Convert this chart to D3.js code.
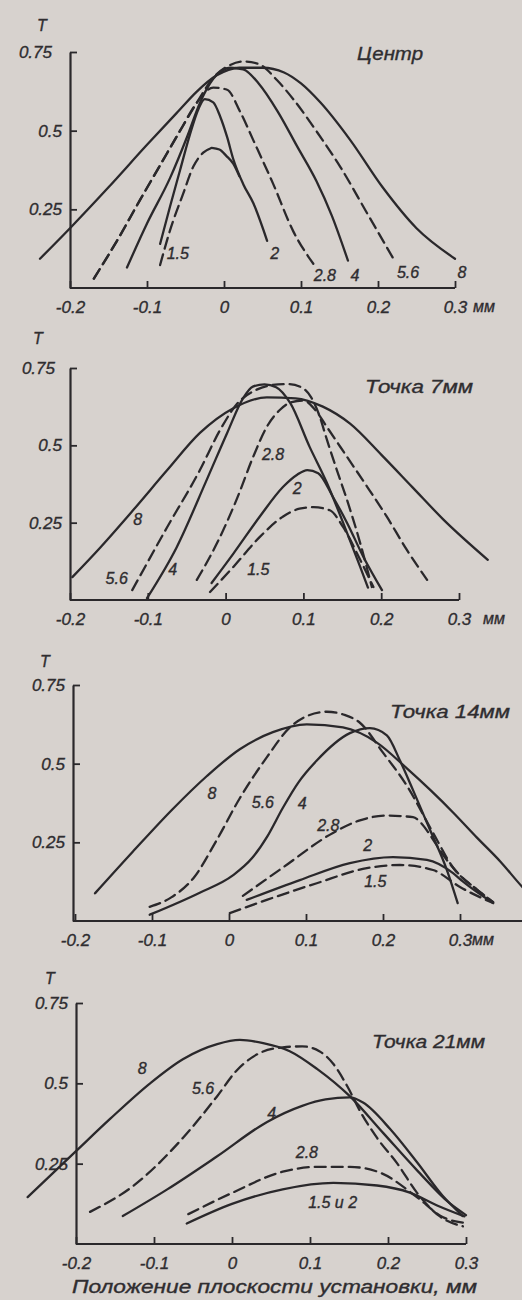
<!DOCTYPE html>
<html>
<head>
<meta charset="utf-8">
<script src="https://cdn.jsdelivr.net/npm/d3@7"></script>
<style>
  html, body { margin: 0; padding: 0; background: #d7d2ce; }
  svg { display: block; }
  text { font-family: "Liberation Sans", Arial, sans-serif; font-style: italic; fill: #2f2d30;
         stroke: #2f2d30; stroke-width: 0.35px; }
</style>
</head>
<body>
<svg id="chart" width="522" height="1300"></svg>
<script>
// Transmission T versus plane position (mm) for several apertures,
// at the field centre and at 7, 14 and 21 mm off axis.

const xTicks = [-0.2, -0.1, 0, 0.1, 0.2, 0.3];
const yTicks = [0.25, 0.5, 0.75];
const titles = ["Центр", "Точка 7мм", "Точка 14мм", "Точка 21мм"];
const axisTitle = "Положение плоскости установки, мм";

// --- Центр ---
const center_8 = [[-0.239,0.093],[-0.2,0.19],[-0.15,0.32],[-0.1,0.455],[-0.06,0.56],[-0.035,0.625],[-0.01,0.675],[0.02,0.70],[0.05,0.70],[0.078,0.685],[0.1,0.65],[0.125,0.59],[0.164,0.47],[0.206,0.32],[0.25,0.19],[0.3,0.093]];
const center_5_6 = [[-0.169,0.03],[-0.139,0.15],[-0.109,0.28],[-0.083,0.39],[-0.057,0.5],[-0.035,0.59],[-0.015,0.665],[0.005,0.705],[0.025,0.72],[0.045,0.712],[0.069,0.66],[0.09,0.6],[0.121,0.495],[0.151,0.385],[0.186,0.237],[0.22,0.093]];
const center_4 = [[-0.126,0.065],[-0.1,0.205],[-0.07,0.35],[-0.048,0.48],[-0.031,0.59],[-0.014,0.665],[0.008,0.70],[0.025,0.695],[0.045,0.65],[0.07,0.56],[0.095,0.45],[0.12,0.34],[0.14,0.23],[0.161,0.087]];
const center_2_8 = [[-0.169,0.03],[-0.139,0.15],[-0.109,0.28],[-0.083,0.39],[-0.057,0.5],[-0.035,0.59],[-0.014,0.637],[0.004,0.63],[0.021,0.56],[0.038,0.47],[0.064,0.33],[0.09,0.18],[0.116,0.077]];
const center_2 = [[-0.083,0.14],[-0.07,0.26],[-0.057,0.375],[-0.044,0.49],[-0.033,0.57],[-0.025,0.60],[-0.014,0.59],[-0.005,0.545],[0.004,0.48],[0.012,0.41],[0.025,0.33],[0.038,0.27],[0.056,0.15]];
const center_1_5 = [[-0.083,0.073],[-0.07,0.184],[-0.053,0.3],[-0.04,0.385],[-0.027,0.43],[-0.016,0.445]];
const center_1_5_fall = [[-0.016,0.445],[-0.006,0.44],[0.003,0.42],[0.012,0.395],[0.02,0.355]];

// --- Точка 7мм ---
const pt7_8 = [[-0.197,0.074],[-0.161,0.17],[-0.119,0.29],[-0.075,0.42],[-0.033,0.54],[0.01,0.62],[0.053,0.655],[0.09,0.652],[0.125,0.625],[0.16,0.57],[0.2,0.47],[0.24,0.365],[0.28,0.26],[0.337,0.13]];
const pt7_5_6 = [[-0.12,0.032],[-0.075,0.236],[-0.033,0.42],[-0.007,0.55],[0.015,0.635],[0.04,0.68],[0.06,0.695],[0.08,0.698],[0.097,0.688],[0.11,0.655],[0.12,0.6],[0.13,0.52],[0.143,0.42],[0.156,0.324],[0.173,0.184],[0.188,0.042]];
const pt7_4 = [[-0.101,0.006],[-0.063,0.17],[-0.024,0.39],[0.002,0.54],[0.022,0.65],[0.035,0.69],[0.05,0.697],[0.065,0.688],[0.083,0.637],[0.108,0.495],[0.13,0.38],[0.151,0.25],[0.173,0.107],[0.183,0.04]];
const pt7_2_8 = [[-0.037,0.065],[-0.011,0.184],[0.015,0.33],[0.035,0.46],[0.053,0.56],[0.07,0.615],[0.085,0.64],[0.1,0.645],[0.115,0.615],[0.13,0.56],[0.156,0.463],[0.182,0.366],[0.207,0.27],[0.233,0.162],[0.259,0.065]];
const pt7_2 = [[-0.018,0.055],[0.01,0.15],[0.044,0.27],[0.074,0.366],[0.092,0.405],[0.105,0.42],[0.119,0.41],[0.138,0.333],[0.156,0.25],[0.177,0.14],[0.201,0.032]];
const pt7_1_5 = [[-0.02,0.026],[0.01,0.107],[0.044,0.204],[0.074,0.27],[0.095,0.295],[0.113,0.30],[0.134,0.29],[0.151,0.236],[0.173,0.13],[0.19,0.042]];

// --- Точка 14мм ---
const pt14_8 = [[-0.174,0.088],[-0.125,0.22],[-0.073,0.356],[-0.029,0.46],[0.014,0.546],[0.057,0.60],[0.101,0.625],[0.148,0.615],[0.192,0.567],[0.231,0.485],[0.262,0.415],[0.291,0.345],[0.322,0.265],[0.352,0.19],[0.381,0.108],[0.4,0.06]];
const pt14_5_6 = [[-0.103,0.045],[-0.075,0.075],[-0.045,0.14],[-0.016,0.257],[0.014,0.39],[0.049,0.52],[0.079,0.615],[0.1,0.65],[0.127,0.665],[0.15,0.655],[0.17,0.63],[0.2,0.535],[0.231,0.43],[0.265,0.28],[0.291,0.17],[0.322,0.10],[0.343,0.06]];
const pt14_4 = [[-0.103,0.02],[-0.038,0.09],[0.005,0.145],[0.03,0.2],[0.05,0.27],[0.07,0.36],[0.09,0.44],[0.114,0.51],[0.157,0.597],[0.183,0.613],[0.205,0.59],[0.222,0.51],[0.239,0.416],[0.261,0.29],[0.283,0.162],[0.297,0.057]];
const pt14_2_8 = [[0.018,0.08],[0.07,0.17],[0.135,0.28],[0.17,0.32],[0.205,0.335],[0.239,0.33],[0.25,0.31],[0.262,0.27],[0.278,0.21],[0.3,0.145],[0.322,0.10],[0.343,0.06]];
const pt14_2 = [[0.023,0.067],[0.092,0.13],[0.157,0.184],[0.213,0.203],[0.257,0.194],[0.291,0.152],[0.304,0.125],[0.343,0.057]];
const pt14_1_5 = [[0.001,0.025],[0.049,0.067],[0.114,0.12],[0.179,0.168],[0.222,0.178],[0.265,0.162],[0.3,0.108],[0.343,0.057]];

// --- Точка 21мм ---
const pt21_8 = [[-0.262,0.146],[-0.2,0.289],[-0.156,0.39],[-0.105,0.50],[-0.063,0.575],[-0.019,0.622],[0.01,0.635],[0.04,0.625],[0.074,0.60],[0.109,0.545],[0.151,0.46],[0.194,0.345],[0.237,0.23],[0.279,0.127],[0.3,0.09]];
const pt21_5_6 = [[-0.182,0.10],[-0.127,0.18],[-0.063,0.33],[-0.019,0.46],[0.006,0.54],[0.036,0.595],[0.065,0.612],[0.09,0.615],[0.112,0.6],[0.13,0.56],[0.148,0.49],[0.165,0.41],[0.186,0.33],[0.212,0.25],[0.237,0.16],[0.267,0.085],[0.296,0.055]];
const pt21_4 = [[-0.14,0.087],[-0.083,0.17],[-0.019,0.273],[0.045,0.38],[0.09,0.43],[0.12,0.45],[0.151,0.456],[0.168,0.44],[0.203,0.357],[0.237,0.255],[0.27,0.15],[0.296,0.087]];
const pt21_2_8 = [[-0.056,0.093],[0.001,0.16],[0.065,0.225],[0.109,0.24],[0.151,0.24],[0.19,0.222],[0.237,0.146],[0.27,0.084],[0.3,0.065]];
const pt21_1_5_and_2 = [[-0.058,0.064],[0.0,0.125],[0.065,0.17],[0.13,0.19],[0.186,0.182],[0.228,0.16],[0.263,0.12],[0.298,0.086]];

// Panel layout and the curves drawn in each
const panels = [
  { series: [
      { d: center_8 }, { d: center_4 }, { d: center_2 }, { d: center_1_5_fall },
      { d: center_5_6, dash: true }, { d: center_2_8, dash: true }, { d: center_1_5, dash: true } ],
    labels: [["1.5",-0.06,0.111],["2",0.066,0.111],["2.8",0.131,0.041],["4",0.17,0.041],["5.6",0.239,0.048],["8",0.309,0.048]],
    xr: [70, 455], yr: [288, 52], axisX: 70, axisEnd: 455, mm: 18, topShift: 10,
    tPos: [42, 31], titlePos: [357, 60, 66] },
  { series: [
      { d: pt7_8 }, { d: pt7_4 }, { d: pt7_2 },
      { d: pt7_5_6, dash: true }, { d: pt7_2_8, dash: true }, { d: pt7_1_5, dash: true } ],
    labels: [["8",-0.113,0.26],["5.6",-0.14,0.07],["4",-0.068,0.10],["2.8",0.061,0.47],["2",0.092,0.36],["1.5",0.042,0.097]],
    xr: [70, 459], yr: [600, 368], axisX: 70, axisEnd: 459, mm: 24, topShift: 7,
    tPos: [38, 344], titlePos: [365, 393, 108] },
  { series: [
      { d: pt14_8 }, { d: pt14_4 }, { d: pt14_2 },
      { d: pt14_5_6, dash: true }, { d: pt14_2_8, dash: true }, { d: pt14_1_5, dash: true } ],
    labels: [["8",-0.022,0.406],["5.6",0.044,0.378],["4",0.095,0.375],["2.8",0.129,0.305],["2",0.18,0.24],["1.5",0.19,0.124]],
    xr: [75, 460], yr: [921, 685], axisX: 73, axisEnd: 522, mm: 12, topShift: 0,
    tPos: [45, 667], titlePos: [390, 718, 120] },
  { series: [
      { d: pt21_8 }, { d: pt21_4 }, { d: pt21_1_5_and_2 },
      { d: pt21_5_6, dash: true }, { d: pt21_2_8, dash: true } ],
    labels: [["8",-0.115,0.547],["5.6",-0.037,0.484],["4",0.051,0.407],["2.8",0.096,0.286],["1.5 и 2",0.129,0.13]],
    xr: [76, 466], yr: [1244, 1003], axisX: 76, axisEnd: 466, mm: null, topShift: 0,
    tPos: [50, 984], titlePos: [372, 1048, 113] }
];

const ink = "#2a282b";
const svg = d3.select("#chart");
const line = d3.line().curve(d3.curveMonotoneX);
const fmt = d => (d === 0 ? "0" : String(d));

panels.forEach((p, i) => {
  const x = d3.scaleLinear().domain([-0.2, 0.3]).range(p.xr);
  const y = d3.scaleLinear().domain([0, 0.75]).range(p.yr);
  const g = svg.append("g");
  line.x(d => x(d[0])).y(d => y(d[1]));

  // x axis: ticks point up into the plot
  const xa = g.append("g")
    .attr("transform", `translate(0,${p.yr[0]})`)
    .call(d3.axisBottom(x).tickValues(xTicks).tickFormat(fmt)
      .tickSize(-7).tickSizeOuter(0).tickPadding(13));
  xa.select(".domain").remove();
  xa.append("line").attr("x1", p.axisX).attr("x2", p.axisEnd)
    .attr("stroke", ink).attr("stroke-width", 2.2);
  xa.selectAll(".tick line").attr("stroke", ink).attr("stroke-width", 1.8);
  xa.selectAll(".tick text").attr("fill", "#2f2d30")
    .style("font-size", "17px").style("font-family", null);
  if (p.mm !== null) {
    g.append("text").attr("x", x(0.3) + p.mm).attr("y", p.yr[0] + 24)
      .style("font-size", "16px").text("мм");
  }

  // y axis: ticks point right into the plot
  const ya = g.append("g")
    .attr("transform", `translate(${p.axisX},0)`)
    .call(d3.axisLeft(y).tickValues(yTicks).tickFormat(fmt)
      .tickSize(-7).tickSizeOuter(0).tickPadding(8));
  ya.select(".domain").attr("stroke", ink).attr("stroke-width", 2.2);
  ya.selectAll(".tick line").attr("stroke", ink).attr("stroke-width", 1.8);
  ya.selectAll(".tick text").attr("fill", "#2f2d30")
    .style("font-size", "17px").style("font-family", null)
    .attr("x", d => (d === 0.75 ? -8 - p.topShift : -8));

  g.append("text").attr("x", p.tPos[0]).attr("y", p.tPos[1])
    .attr("text-anchor", "middle").style("font-size", "16px").text("T");

  g.append("text").attr("x", p.titlePos[0]).attr("y", p.titlePos[1])
    .attr("textLength", p.titlePos[2]).attr("lengthAdjust", "spacingAndGlyphs")
    .style("font-size", "18px").text(titles[i]);

  // curves
  g.append("g").selectAll("path").data(p.series).join("path")
    .attr("d", s => line(s.d))
    .attr("fill", "none")
    .attr("stroke", ink)
    .attr("stroke-width", 2.3)
    .attr("stroke-linecap", "round")
    .attr("stroke-dasharray", s => (s.dash ? "11,6" : null));

  // aperture labels
  g.append("g").selectAll("text").data(p.labels).join("text")
    .attr("x", d => x(d[1])).attr("y", d => y(d[2]))
    .attr("text-anchor", "middle").attr("dominant-baseline", "central")
    .style("font-size", "16px").text(d => d[0]);
});

svg.append("text").attr("x", 72).attr("y", 1293)
  .attr("textLength", 405).attr("lengthAdjust", "spacingAndGlyphs")
  .style("font-size", "18px").text(axisTitle);
</script>
</body>
</html>
